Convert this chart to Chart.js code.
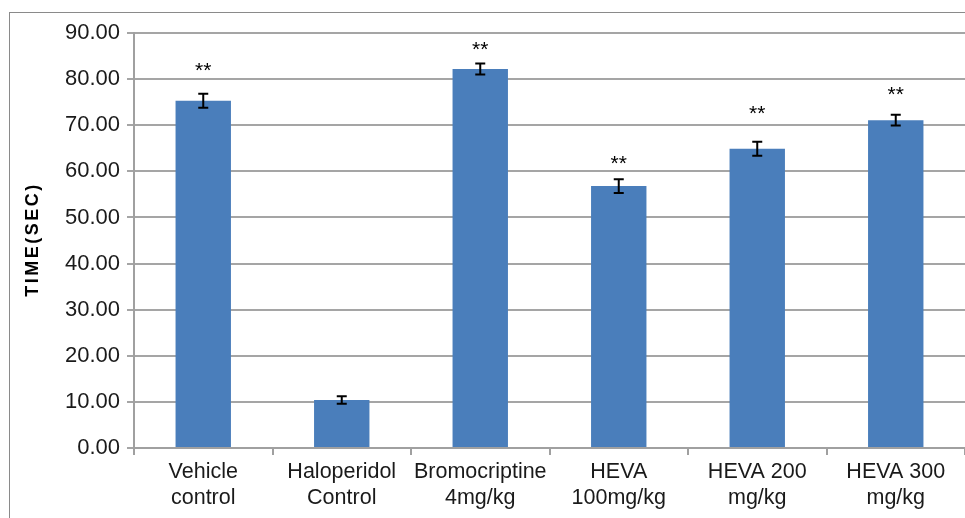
<!DOCTYPE html>
<html>
<head>
<meta charset="utf-8">
<script src="https://cdn.jsdelivr.net/npm/chart.js@4"></script>
<style>
  html, body { margin: 0; padding: 0; background: #fff; overflow: hidden; }
  #wrap { position: relative; width: 965px; height: 518px; }
  #frame { position: absolute; left: 9px; top: 12px; width: 1000px; height: 600px;
           border-left: 1.5px solid #8a8a8a; border-top: 1.5px solid #8a8a8a; }
  canvas { position: absolute; left: 0; top: 0; }
</style>
</head>
<body>
<div id="wrap">
  <div id="frame"></div>
  <canvas id="chart" width="965" height="518"></canvas>
</div>
<script>
// Treatment groups (two-line axis labels)
const categories = [
  ['Vehicle', 'control'],
  ['Haloperidol', 'Control'],
  ['Bromocriptine', '4mg/kg'],
  ['HEVA', '100mg/kg'],
  ['HEVA 200', 'mg/kg'],
  ['HEVA 300', 'mg/kg']
];
// Mean time (sec) and its standard error per group
const meanTime = [75.3, 10.4, 82.2, 56.8, 64.9, 71.1];
const semTime = [1.5, 0.8, 1.2, 1.5, 1.5, 1.15];
// Significance markers per group
const significance = ['**', '', '**', '**', '**', '**'];
// Value axis
const yMin = 0;
const yMax = 90;
const yStep = 10;
const yTitle = 'TIME(SEC)';

const FONT = "'Liberation Sans', Arial, sans-serif";

// Error bars with caps plus the significance stars above them
const errorBarPlugin = {
  id: 'errorBars',
  afterDatasetsDraw(chart, args, opts) {
    const ctx = chart.ctx;
    const yScale = chart.scales.y;
    const meta = chart.getDatasetMeta(0);
    ctx.save();
    meta.data.forEach((bar, i) => {
      const x = bar.x;
      const top = yScale.getPixelForValue(meanTime[i] + semTime[i]);
      const bot = yScale.getPixelForValue(meanTime[i] - semTime[i]);
      ctx.strokeStyle = '#000';
      ctx.lineWidth = 2;
      ctx.beginPath();
      ctx.moveTo(x, top); ctx.lineTo(x, bot);
      ctx.moveTo(x - 5, top); ctx.lineTo(x + 5, top);
      ctx.moveTo(x - 5, bot); ctx.lineTo(x + 5, bot);
      ctx.stroke();
      if (significance[i]) {
        ctx.fillStyle = '#000';
        ctx.font = '21px ' + FONT;
        ctx.textAlign = 'center';
        ctx.textBaseline = 'alphabetic';
        const lift = opts.starLift[i];
        ctx.fillText(significance[i], x, top - lift + 12);
      }
    });
    ctx.restore();
  }
};

// Rotated value-axis title
const axisTitlePlugin = {
  id: 'axisTitle',
  afterDraw(chart, args, opts) {
    const ctx = chart.ctx;
    const a = chart.chartArea;
    ctx.save();
    ctx.translate(opts.x, (a.top + a.bottom) / 2);
    ctx.rotate(-Math.PI / 2);
    ctx.font = 'bold 18px ' + FONT;
    if ('letterSpacing' in ctx) ctx.letterSpacing = '2.5px';
    ctx.fillStyle = '#000';
    ctx.textAlign = 'center';
    ctx.textBaseline = 'middle';
    ctx.fillText(yTitle, 1, 0);
    ctx.restore();
  }
};

new Chart(document.getElementById('chart'), {
  type: 'bar',
  data: {
    labels: categories,
    datasets: [{
      data: meanTime,
      backgroundColor: '#4a7ebb',
      borderWidth: 0,
      barPercentage: 0.4,
      categoryPercentage: 1.0
    }]
  },
  plugins: [errorBarPlugin, axisTitlePlugin],
  options: {
    responsive: false,
    animation: false,
    devicePixelRatio: 1,
    layout: { padding: { top: 33, right: 0, left: 0, bottom: 0 } },
    plugins: {
      legend: { display: false },
      tooltip: { enabled: false },
      errorBars: { starLift: [29, 0, 19, 21, 34, 26] },
      axisTitle: { x: 33 }
    },
    scales: {
      x: {
        grid: {
          display: true,
          drawOnChartArea: false,
          drawTicks: true,
          tickLength: 7,
          color: '#a0a0a0',
          lineWidth: 2,
          offset: true
        },
        border: { display: true, color: '#a0a0a0', width: 2 },
        ticks: {
          font: { family: FONT, size: 21.5, lineHeight: 1.22 },
          color: '#1a1a1a',
          padding: 4,
          maxRotation: 0,
          autoSkip: false
        },
        afterFit(scale) { scale.height = 70; }
      },
      y: {
        min: yMin,
        max: yMax,
        grid: {
          color: '#a5a5a5',
          lineWidth: 2,
          tickLength: 7,
          drawTicks: true
        },
        border: { display: true, color: '#a0a0a0', width: 2 },
        ticks: {
          stepSize: yStep,
          callback: v => Number(v).toFixed(2),
          font: { family: FONT, size: 22 },
          color: '#1a1a1a',
          padding: 7
        },
        afterFit(scale) { scale.width = 134; }
      }
    }
  }
});
</script>
</body>
</html>
